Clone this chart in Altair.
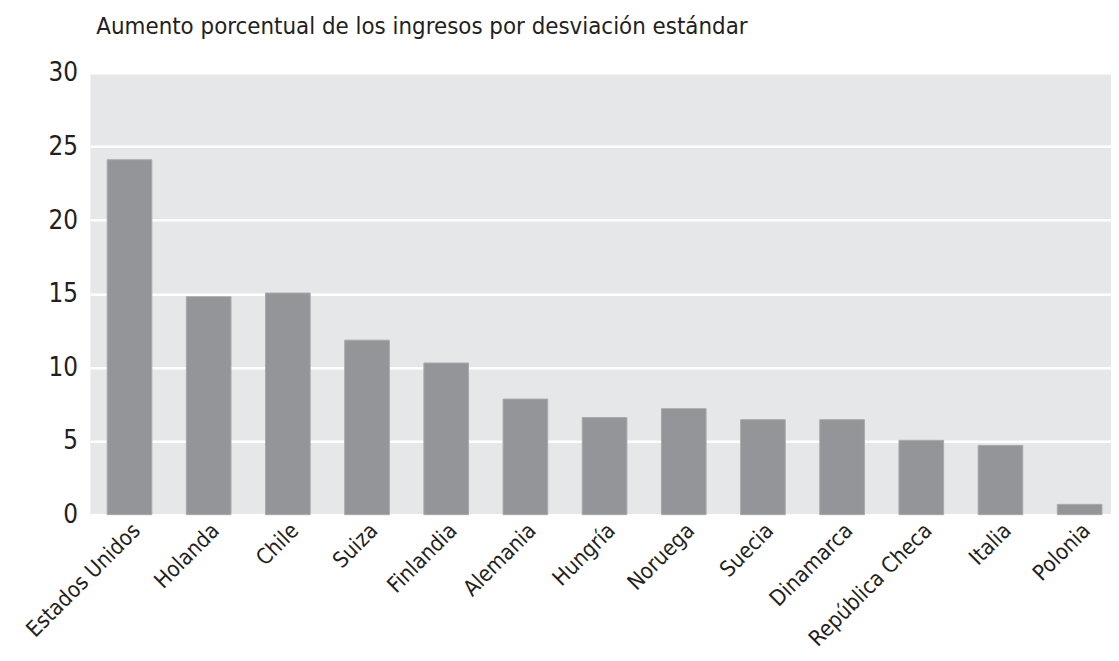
import altair as alt
import pandas as pd

countries = ["Estados Unidos", "Holanda", "Chile", "Suiza", "Finlandia", "Alemania",
             "Hungría", "Noruega", "Suecia", "Dinamarca", "República Checa", "Italia", "Polonia"]
values = [24.1, 14.8, 15.05, 11.85, 10.3, 7.85, 6.6, 7.2, 6.45, 6.45, 5.05, 4.7, 0.7]
y_ticks = [0, 5, 10, 15, 20, 25, 30]
title_text = "Aumento porcentual de los ingresos por desviación estándar"

df = pd.DataFrame({"pais": countries, "valor": values})

FONT = "Liberation Sans Narrow, DejaVu Sans Condensed, Roboto, sans-serif"

chart = alt.Chart(df).mark_bar(
    color="#939598", stroke="#a7a9ac", strokeWidth=1
).encode(
    x=alt.X("pais:N", sort=countries,
            scale=alt.Scale(paddingInner=0.436, paddingOuter=0.163, align=0.65),
            axis=alt.Axis(title=None, labelAngle=-45, labelFontSize=22, labelFont=FONT,
                          labelColor="#231f20", ticks=False, domain=False, labelPadding=5)),
    y=alt.Y("valor:Q", scale=alt.Scale(domain=[0, 30], nice=False),
            axis=alt.Axis(title=None, values=y_ticks, labelFontSize=26, labelFont=FONT,
                          labelColor="#231f20", ticks=False, domain=False, labelPadding=13,
                          grid=True, gridColor="white", gridWidth=2.5))
).properties(
    width=1028, height=445,
    title=alt.TitleParams(title_text, anchor="start", frame="group", dx=6, offset=2,
                          baseline="alphabetic", fontSize=24, font=FONT,
                          fontWeight="normal", color="#231f20"),
    autosize=alt.AutoSizeParams(type="none"),
    padding={"left": 83, "top": 63, "right": 0, "bottom": 139}
).configure_view(fill="#e6e7e8", stroke=None)

chart.save("out.html", embed_options={"renderer": "svg", "actions": False})
